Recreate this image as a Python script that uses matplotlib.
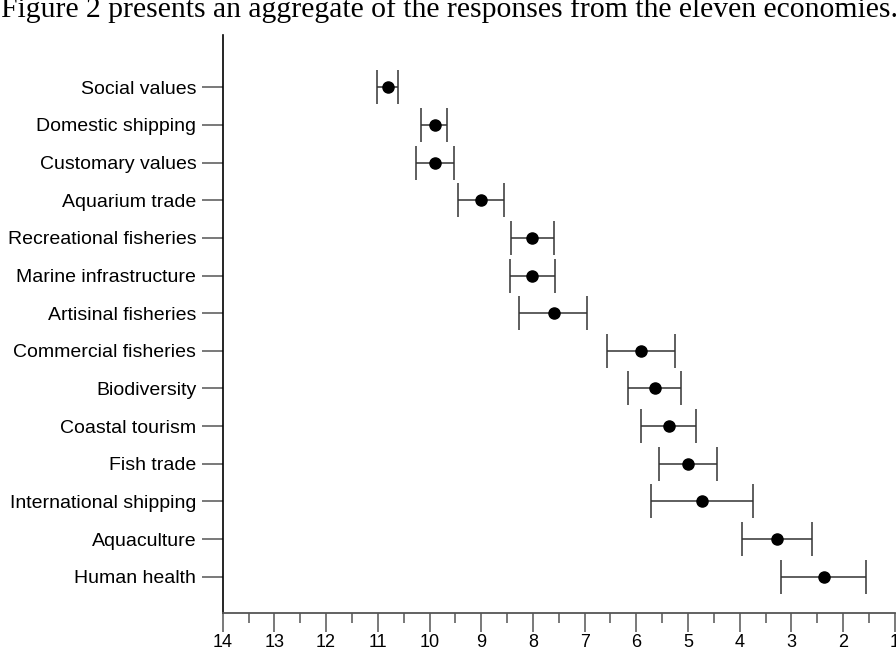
import matplotlib.pyplot as plt
from matplotlib.ticker import MultipleLocator
import numpy as np

categories = ['Social values', 'Domestic shipping', 'Customary values', 'Aquarium trade',
              'Recreational fisheries', 'Marine infrastructure', 'Artisinal fisheries',
              'Commercial fisheries', 'Biodiversity', 'Coastal tourism', 'Fish trade',
              'International shipping', 'Aquaculture', 'Human health']
means = [10.80, 9.90, 9.90, 9.00, 8.01, 8.01, 7.60, 5.91, 5.64, 5.37, 5.00, 4.73, 3.28, 2.37]
upper = [11.02, 10.16, 10.27, 9.45, 8.43, 8.44, 8.26, 6.56, 6.16, 5.91, 5.57, 5.72, 3.95, 3.20]
lower = [10.60, 9.67, 9.53, 8.56, 7.59, 7.57, 6.95, 5.25, 5.13, 4.84, 4.44, 3.75, 2.61, 1.55]

means = np.array(means)
xerr = [means - np.array(lower), np.array(upper) - means]
y = np.arange(len(categories), 0, -1)

fig = plt.figure(figsize=(8.96, 6.59), dpi=100)
ax = fig.add_axes([222.7 / 896, 1 - 612.7 / 659, (894.8 - 222.7) / 896, (612.7 - 35) / 659])

ax.errorbar(means, y, xerr=xerr, fmt='o', color='black', markersize=8,
            ecolor='#333333', elinewidth=1.1, capsize=12, capthick=1.1)

ax.set_xlim(14, 1)
ax.set_ylim(0.044, 15.39)
ax.set_yticks(y)
ax.set_yticklabels(categories, family='Liberation Sans', fontsize=14)
ax.xaxis.set_major_locator(MultipleLocator(1))
ax.xaxis.set_minor_locator(MultipleLocator(0.5))
for lab in ax.get_xticklabels():
    lab.set_family('Liberation Sans')
    lab.set_fontsize(13)

ax.spines['top'].set_visible(False)
ax.spines['right'].set_visible(False)
ax.spines['left'].set_color('black')
ax.spines['bottom'].set_color('#555555')
ax.spines['left'].set_linewidth(1.2)
ax.spines['bottom'].set_linewidth(1.3)

ax.tick_params(axis='y', length=15, width=1.1, color='#555555', pad=4)
ax.tick_params(axis='x', which='major', length=14, width=1.1, color='#555555', pad=1)
ax.tick_params(axis='x', which='minor', length=7, width=1.1, color='#555555')

fig.text(1 / 896, 1 - 17 / 659,
         'Figure 2 presents an aggregate of the responses from the eleven economies.',
         family='Liberation Serif', fontsize=21.3, va='baseline', ha='left')

fig.savefig('out.png', dpi=100)
